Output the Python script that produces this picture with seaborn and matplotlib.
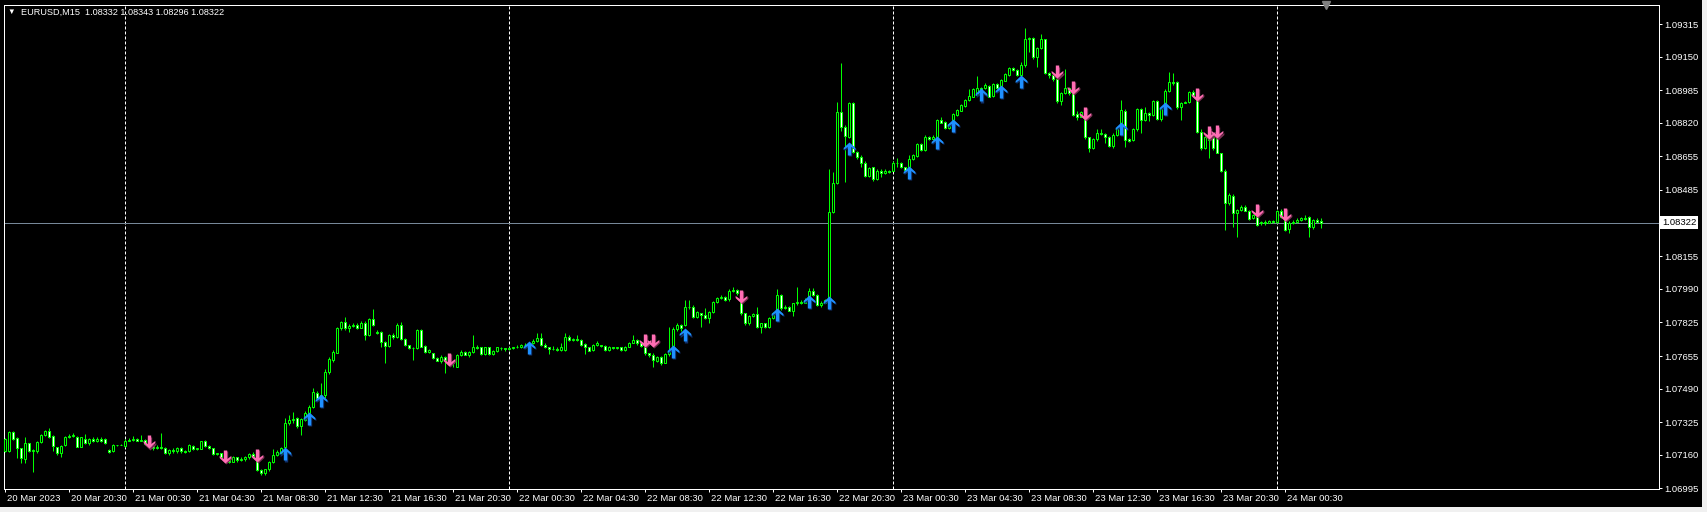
import numpy as np
import pandas as pd
import matplotlib
matplotlib.use("Agg")
import matplotlib.pyplot as plt
from matplotlib.path import Path
from matplotlib.markers import MarkerStyle
from matplotlib import transforms
from matplotlib.patches import Rectangle
import seaborn as sns

# ---------------- data (EURUSD M15, 20 Mar 2023 16:30 -> 24 Mar 2023 02:45) ----------------
opens = [
1.07182,1.07182,1.07277,1.07243,1.07193,1.07140,1.07218,1.07182,1.07180,1.07227,
1.07260,1.07278,1.07255,1.07198,1.07168,1.07210,1.07248,1.07255,1.07248,1.07202,
1.07242,1.07218,1.07238,1.07232,1.07240,1.07238,1.07185,1.07180,1.07208,1.07212,
1.07205,1.07232,1.07235,1.07240,1.07232,1.07235,1.07215,1.07205,1.07195,1.07198,
1.07193,1.07168,1.07185,1.07178,1.07193,1.07178,1.07180,1.07207,1.07190,1.07190,
1.07230,1.07205,1.07193,1.07167,1.07168,1.07152,1.07135,1.07127,1.07148,1.07135,
1.07140,1.07148,1.07165,1.07135,1.07085,1.07072,1.07088,1.07125,1.07160,1.07170,
1.07202,1.07318,1.07335,1.07343,1.07305,1.07335,1.07372,1.07402,1.07470,1.07455,
1.07460,1.07573,1.07635,1.07672,1.07793,1.07823,1.07793,1.07805,1.07810,1.07797,
1.07822,1.07760,1.07838,1.07777,1.07775,1.07723,1.07705,1.07760,1.07748,1.07810,
1.07740,1.07710,1.07695,1.07693,1.07785,1.07705,1.07677,1.07670,1.07643,1.07632,
1.07652,1.07635,1.07627,1.07602,1.07660,1.07677,1.07662,1.07677,1.07702,1.07698,
1.07665,1.07698,1.07663,1.07680,1.07695,1.07693,1.07688,1.07693,1.07700,1.07698,
1.07710,1.07710,1.07718,1.07732,1.07743,1.07710,1.07698,1.07690,1.07692,1.07685,
1.07685,1.07752,1.07735,1.07738,1.07735,1.07715,1.07698,1.07685,1.07710,1.07708,
1.07705,1.07685,1.07698,1.07693,1.07698,1.07685,1.07700,1.07722,1.07735,1.07718,
1.07702,1.07668,1.07660,1.07632,1.07648,1.07622,1.07663,1.07705,1.07788,1.07810,
1.07810,1.07902,1.07902,1.07852,1.07868,1.07860,1.07843,1.07877,1.07927,1.07943,
1.07952,1.07938,1.07982,1.07985,1.07968,1.07868,1.07818,1.07855,1.07865,1.07802,
1.07818,1.07802,1.07843,1.07868,1.07960,1.07893,1.07900,1.07882,1.07918,1.07927,
1.07922,1.07935,1.07982,1.07960,1.07910,1.07922,1.07910,1.08377,1.08522,1.08873,
1.08802,1.08752,1.08918,1.08677,1.08652,1.08622,1.08555,1.08598,1.08538,1.08582,
1.08572,1.08580,1.08582,1.08622,1.08622,1.08598,1.08602,1.08638,1.08655,1.08715,
1.08685,1.08752,1.08740,1.08752,1.08835,1.08827,1.08793,1.08835,1.08860,1.08882,
1.08907,1.08935,1.08952,1.08960,1.08993,1.08993,1.09005,1.08955,1.09013,1.09005,
1.09032,1.09060,1.09093,1.09085,1.09060,1.09110,1.09238,1.09243,1.09148,1.09193,
1.09238,1.09072,1.09060,1.09038,1.08932,1.08972,1.08993,1.08977,1.08865,1.08852,
1.08852,1.08748,1.08693,1.08738,1.08768,1.08765,1.08752,1.08705,1.08760,1.08810,
1.08882,1.08738,1.08735,1.08788,1.08888,1.08835,1.08868,1.08860,1.08930,1.08838,
1.08893,1.08982,1.09027,1.09027,1.08898,1.08922,1.08927,1.08977,1.08960,1.08777,
1.08693,1.08752,1.08752,1.08760,1.08668,1.08582,1.08418,1.08455,1.08368,1.08385,
1.08402,1.08382,1.08343,1.08352,1.08318,1.08327,1.08322,1.08330,1.08327,1.08380,
1.08335,1.08288,1.08318,1.08327,1.08335,1.08343,1.08348,1.08298,1.08335,1.08332]

highs = [
1.07243,1.07282,1.07282,1.07248,1.07195,1.07252,1.07222,1.07190,1.07232,1.07265,
1.07285,1.07293,1.07260,1.07200,1.07210,1.07255,1.07265,1.07268,1.07255,1.07252,
1.07265,1.07243,1.07248,1.07248,1.07248,1.07243,1.07190,1.07215,1.07210,1.07213,
1.07240,1.07245,1.07255,1.07245,1.07258,1.07240,1.07220,1.07210,1.07210,1.07268,
1.07200,1.07190,1.07193,1.07200,1.07200,1.07183,1.07213,1.07212,1.07197,1.07232,
1.07235,1.07210,1.07195,1.07172,1.07172,1.07160,1.07145,1.07157,1.07150,1.07148,
1.07155,1.07172,1.07175,1.07140,1.07088,1.07092,1.07130,1.07192,1.07185,1.07200,
1.07345,1.07360,1.07375,1.07350,1.07345,1.07380,1.07410,1.07497,1.07480,1.07518,
1.07590,1.07650,1.07685,1.07800,1.07830,1.07848,1.07815,1.07820,1.07820,1.07828,
1.07830,1.07845,1.07888,1.07785,1.07780,1.07728,1.07765,1.07770,1.07820,1.07825,
1.07745,1.07712,1.07700,1.07790,1.07790,1.07708,1.07690,1.07672,1.07648,1.07660,
1.07655,1.07640,1.07632,1.07665,1.07685,1.07682,1.07680,1.07758,1.07710,1.07702,
1.07702,1.07702,1.07685,1.07702,1.07700,1.07695,1.07698,1.07702,1.07708,1.07715,
1.07718,1.07725,1.07738,1.07768,1.07772,1.07718,1.07702,1.07705,1.07702,1.07720,
1.07772,1.07760,1.07745,1.07758,1.07740,1.07718,1.07702,1.07715,1.07730,1.07712,
1.07710,1.07705,1.07702,1.07702,1.07702,1.07705,1.07727,1.07758,1.07740,1.07725,
1.07705,1.07672,1.07668,1.07655,1.07655,1.07668,1.07802,1.07800,1.07822,1.07815,
1.07935,1.07935,1.07908,1.07882,1.07872,1.07893,1.07882,1.07932,1.07950,1.07960,
1.07955,1.07988,1.08002,1.07990,1.07970,1.07872,1.07860,1.07872,1.07898,1.07822,
1.07822,1.07848,1.07875,1.07988,1.07965,1.07908,1.07905,1.07922,1.08002,1.07935,
1.07945,1.07993,1.07993,1.07965,1.07930,1.07940,1.08588,1.08577,1.08927,1.09122,
1.08810,1.08925,1.08925,1.08682,1.08660,1.08630,1.08600,1.08602,1.08590,1.08588,
1.08588,1.08585,1.08628,1.08643,1.08627,1.08602,1.08660,1.08665,1.08720,1.08720,
1.08760,1.08755,1.08758,1.08840,1.08852,1.08830,1.08822,1.08870,1.08890,1.08915,
1.08940,1.08988,1.08993,1.09055,1.08998,1.09022,1.09010,1.09018,1.09018,1.09040,
1.09070,1.09098,1.09100,1.09090,1.09125,1.09293,1.09248,1.09248,1.09198,1.09265,
1.09242,1.09077,1.09065,1.09045,1.08977,1.09088,1.09000,1.08982,1.08880,1.08882,
1.08860,1.08752,1.08745,1.08790,1.08790,1.08770,1.08757,1.08770,1.08800,1.08935,
1.08888,1.08745,1.08795,1.08893,1.08893,1.08900,1.08875,1.08935,1.08935,1.08898,
1.08990,1.09077,1.09068,1.09030,1.08927,1.08932,1.08982,1.08985,1.08965,1.08790,
1.08760,1.08760,1.08760,1.08765,1.08672,1.08588,1.08470,1.08465,1.08390,1.08410,
1.08410,1.08385,1.08365,1.08358,1.08332,1.08335,1.08335,1.08335,1.08385,1.08388,
1.08340,1.08330,1.08335,1.08345,1.08352,1.08360,1.08355,1.08340,1.08345,1.08343]

lows = [
1.07177,1.07177,1.07235,1.07143,1.07122,1.07122,1.07177,1.07077,1.07172,1.07222,
1.07255,1.07245,1.07182,1.07160,1.07148,1.07205,1.07243,1.07248,1.07198,1.07198,
1.07215,1.07210,1.07227,1.07227,1.07227,1.07215,1.07170,1.07177,1.07205,1.07210,
1.07200,1.07230,1.07230,1.07228,1.07228,1.07210,1.07200,1.07185,1.07190,1.07190,
1.07165,1.07162,1.07172,1.07172,1.07172,1.07170,1.07177,1.07187,1.07185,1.07188,
1.07202,1.07188,1.07160,1.07160,1.07145,1.07125,1.07118,1.07125,1.07125,1.07128,
1.07132,1.07140,1.07148,1.07080,1.07058,1.07062,1.07082,1.07120,1.07155,1.07165,
1.07198,1.07310,1.07320,1.07295,1.07262,1.07330,1.07368,1.07395,1.07440,1.07440,
1.07445,1.07565,1.07625,1.07668,1.07785,1.07785,1.07775,1.07800,1.07790,1.07793,
1.07735,1.07755,1.07805,1.07765,1.07700,1.07618,1.07700,1.07740,1.07745,1.07733,
1.07705,1.07690,1.07635,1.07688,1.07700,1.07672,1.07672,1.07638,1.07628,1.07618,
1.07568,1.07615,1.07600,1.07600,1.07655,1.07658,1.07648,1.07672,1.07690,1.07660,
1.07660,1.07660,1.07658,1.07675,1.07685,1.07682,1.07685,1.07688,1.07695,1.07695,
1.07705,1.07705,1.07715,1.07727,1.07705,1.07693,1.07665,1.07685,1.07680,1.07680,
1.07682,1.07730,1.07730,1.07730,1.07705,1.07665,1.07678,1.07680,1.07705,1.07700,
1.07682,1.07680,1.07688,1.07690,1.07680,1.07678,1.07698,1.07718,1.07710,1.07700,
1.07660,1.07650,1.07602,1.07625,1.07610,1.07618,1.07655,1.07700,1.07780,1.07780,
1.07805,1.07890,1.07845,1.07845,1.07802,1.07838,1.07818,1.07870,1.07920,1.07938,
1.07930,1.07932,1.07975,1.07960,1.07860,1.07810,1.07812,1.07850,1.07795,1.07768,
1.07795,1.07795,1.07838,1.07860,1.07885,1.07888,1.07878,1.07855,1.07912,1.07915,
1.07918,1.07930,1.07955,1.07905,1.07900,1.07918,1.07905,1.08370,1.08515,1.08780,
1.08527,1.08745,1.08670,1.08640,1.08600,1.08550,1.08550,1.08530,1.08535,1.08552,
1.08565,1.08572,1.08578,1.08602,1.08593,1.08580,1.08595,1.08635,1.08650,1.08680,
1.08680,1.08735,1.08735,1.08748,1.08818,1.08790,1.08788,1.08830,1.08855,1.08878,
1.08902,1.08930,1.08948,1.08955,1.08975,1.08988,1.08948,1.08950,1.08988,1.09000,
1.09028,1.09055,1.09080,1.09055,1.09055,1.09100,1.09177,1.09140,1.09102,1.09188,
1.09065,1.09045,1.09030,1.08920,1.08910,1.08965,1.08960,1.08855,1.08835,1.08848,
1.08740,1.08675,1.08688,1.08730,1.08760,1.08720,1.08700,1.08695,1.08755,1.08805,
1.08700,1.08725,1.08730,1.08780,1.08770,1.08830,1.08830,1.08855,1.08833,1.08830,
1.08888,1.08977,1.09010,1.08890,1.08835,1.08918,1.08922,1.08955,1.08770,1.08685,
1.08688,1.08643,1.08685,1.08668,1.08575,1.08285,1.08410,1.08302,1.08248,1.08378,
1.08378,1.08335,1.08338,1.08305,1.08310,1.08312,1.08318,1.08320,1.08322,1.08345,
1.08280,1.08268,1.08315,1.08320,1.08330,1.08333,1.08250,1.08290,1.08320,1.08296]

closes = [
1.07238,1.07277,1.07238,1.07193,1.07143,1.07218,1.07182,1.07185,1.07227,1.07260,
1.07280,1.07250,1.07205,1.07168,1.07205,1.07248,1.07255,1.07260,1.07202,1.07248,
1.07218,1.07238,1.07232,1.07240,1.07232,1.07218,1.07175,1.07210,1.07208,1.07212,
1.07232,1.07235,1.07240,1.07232,1.07235,1.07215,1.07210,1.07195,1.07200,1.07197,
1.07168,1.07185,1.07178,1.07193,1.07178,1.07177,1.07210,1.07190,1.07193,1.07230,
1.07205,1.07193,1.07165,1.07168,1.07152,1.07135,1.07127,1.07150,1.07135,1.07140,
1.07150,1.07165,1.07155,1.07085,1.07072,1.07088,1.07127,1.07160,1.07177,1.07193,
1.07318,1.07335,1.07340,1.07305,1.07338,1.07372,1.07402,1.07473,1.07445,1.07460,
1.07573,1.07640,1.07677,1.07793,1.07823,1.07793,1.07805,1.07810,1.07797,1.07822,
1.07760,1.07838,1.07810,1.07772,1.07723,1.07705,1.07760,1.07748,1.07810,1.07738,
1.07710,1.07693,1.07693,1.07785,1.07702,1.07677,1.07685,1.07643,1.07632,1.07652,
1.07635,1.07627,1.07618,1.07660,1.07677,1.07662,1.07677,1.07702,1.07695,1.07665,
1.07698,1.07663,1.07680,1.07698,1.07693,1.07688,1.07693,1.07698,1.07702,1.07710,
1.07712,1.07718,1.07732,1.07743,1.07710,1.07698,1.07690,1.07692,1.07685,1.07702,
1.07752,1.07735,1.07738,1.07735,1.07710,1.07698,1.07682,1.07710,1.07718,1.07705,
1.07685,1.07698,1.07693,1.07698,1.07685,1.07702,1.07722,1.07735,1.07718,1.07705,
1.07668,1.07660,1.07635,1.07648,1.07622,1.07663,1.07677,1.07788,1.07810,1.07793,
1.07902,1.07898,1.07852,1.07877,1.07860,1.07843,1.07877,1.07927,1.07943,1.07952,
1.07935,1.07982,1.07985,1.07968,1.07868,1.07818,1.07855,1.07865,1.07802,1.07818,
1.07802,1.07843,1.07868,1.07960,1.07893,1.07902,1.07882,1.07918,1.07927,1.07922,
1.07935,1.07982,1.07960,1.07910,1.07922,1.07935,1.08377,1.08522,1.08873,1.08802,
1.08755,1.08918,1.08677,1.08652,1.08622,1.08555,1.08593,1.08538,1.08582,1.08572,
1.08582,1.08577,1.08622,1.08622,1.08598,1.08585,1.08638,1.08660,1.08715,1.08685,
1.08752,1.08738,1.08752,1.08835,1.08822,1.08793,1.08815,1.08865,1.08885,1.08910,
1.08935,1.08955,1.08988,1.08993,1.08982,1.09010,1.08952,1.09013,1.08993,1.09035,
1.09065,1.09093,1.09085,1.09060,1.09110,1.09238,1.09243,1.09148,1.09193,1.09238,
1.09072,1.09060,1.09038,1.08932,1.08972,1.08993,1.08970,1.08860,1.08852,1.08877,
1.08748,1.08693,1.08738,1.08768,1.08765,1.08752,1.08705,1.08760,1.08793,1.08885,
1.08735,1.08732,1.08788,1.08888,1.08835,1.08868,1.08860,1.08930,1.08838,1.08893,
1.08982,1.09027,1.09018,1.08898,1.08922,1.08927,1.08977,1.08960,1.08777,1.08693,
1.08752,1.08735,1.08693,1.08672,1.08582,1.08418,1.08460,1.08368,1.08385,1.08402,
1.08382,1.08340,1.08360,1.08310,1.08327,1.08318,1.08330,1.08327,1.08380,1.08352,
1.08285,1.08322,1.08327,1.08335,1.08343,1.08338,1.08298,1.08335,1.08327,1.08322]

# signal arrows (bar index, arrow tip price)
sell_idx = [36, 55, 63, 111, 160, 162, 184, 263, 267, 270, 298, 301, 303, 313, 320]
sell_tip = [1.07193, 1.07122, 1.07127, 1.07605, 1.07702, 1.07702, 1.07922, 1.09043,
            1.08965, 1.08835, 1.08932, 1.08738, 1.08743, 1.08352, 1.08332]
buy_idx = [70, 76, 79, 131, 167, 170, 193, 201, 206, 211, 226, 233, 237, 244, 249, 254, 279, 290]
buy_tip = [1.07198, 1.07377, 1.07465, 1.07730, 1.07710, 1.07793, 1.07897, 1.07960, 1.07957,
           1.08727, 1.08607, 1.08757, 1.08840, 1.08993, 1.09010, 1.09060, 1.08827, 1.08927]

day_sep_idx = [30, 126, 222, 318]
price_ticks = [1.09315, 1.09150, 1.08985, 1.08820, 1.08655, 1.08485, 1.08155,
               1.07990, 1.07825, 1.07655, 1.07490, 1.07325, 1.07160, 1.06995]
time_tick_idx = list(range(0, 321, 16))
time_tick_labels = ["20 Mar 2023", "20 Mar 20:30", "21 Mar 00:30", "21 Mar 04:30", "21 Mar 08:30",
                    "21 Mar 12:30", "21 Mar 16:30", "21 Mar 20:30", "22 Mar 00:30", "22 Mar 04:30",
                    "22 Mar 08:30", "22 Mar 12:30", "22 Mar 16:30", "22 Mar 20:30", "23 Mar 00:30",
                    "23 Mar 04:30", "23 Mar 08:30", "23 Mar 12:30", "23 Mar 16:30", "23 Mar 20:30",
                    "24 Mar 00:30"]
symbol = "EURUSD,M15"

# ---------------- style ----------------
sns.set_style("dark", {"axes.facecolor": "black", "figure.facecolor": "black",
                       "axes.edgecolor": "white", "xtick.color": "white", "ytick.color": "white",
                       "text.color": "white", "axes.grid": False})
plt.rcParams['font.family'] = ['Liberation Sans', 'DejaVu Sans']
plt.rcParams['xtick.bottom'] = True
plt.rcParams['ytick.right'] = True

LIME = "#00FF00"
PX = 0.72  # one pixel in points at dpi 100
W, H = 1707, 512
L, R, T, B = 4, 1659, 5, 489

df = pd.DataFrame({"open": opens, "high": highs, "low": lows, "close": closes})
df["i"] = np.arange(len(df))
df["bull"] = df["close"] >= df["open"]
df["bot"] = df[["open", "close"]].min(axis=1)
df["h"] = (df["close"] - df["open"]).abs().clip(lower=1e-7)

fig = plt.figure(figsize=(W / 100, H / 100), dpi=100, facecolor="black")
ax = fig.add_axes([L / W, 1 - B / H, (R - L) / W, (B - T) / H])
ax.set_facecolor("black")

# separators and current price line
for d in day_sep_idx:
    ax.axvline(d, color="white", lw=PX, ls=(0, (3, 2)), zorder=1)
ax.axhline(closes[-1], color="#778899", lw=PX, zorder=1)

# candles
ax.vlines(df["i"], df["low"], df["high"], color=LIME, lw=PX, zorder=2)
ax.bar(df["i"], df["h"], bottom=df["bot"], width=0.5,
       color=np.where(df["bull"], "black", "white"), edgecolor=LIME, linewidth=PX, zorder=3)

# arrow markers (tip at origin)
up_verts = [(0, 0), (0.45, -0.42), (0.45, -0.58), (0.13, -0.34), (0.13, -1.0),
            (-0.13, -1.0), (-0.13, -0.34), (-0.45, -0.58), (-0.45, -0.42), (0, 0)]
codes = [Path.MOVETO] + [Path.LINETO] * 8 + [Path.CLOSEPOLY]
up_marker = MarkerStyle(Path(up_verts, codes))
down_marker = MarkerStyle(Path([(x, -y) for x, y in up_verts], codes))
shadow = transforms.offset_copy(ax.transData, fig=fig, x=1.2, y=-1.2, units="dots")
S = 350
sns.scatterplot(x=buy_idx, y=buy_tip, marker=up_marker, s=S, color="#10306A", linewidth=0,
                ax=ax, transform=shadow, zorder=4)
sns.scatterplot(x=buy_idx, y=buy_tip, marker=up_marker, s=S, color="#1E90FF", linewidth=0,
                ax=ax, zorder=5)
sns.scatterplot(x=sell_idx, y=sell_tip, marker=down_marker, s=S, color="#7A2E52", linewidth=0,
                ax=ax, transform=shadow, zorder=4)
sns.scatterplot(x=sell_idx, y=sell_tip, marker=down_marker, s=S, color="#FF6EB4", linewidth=0,
                ax=ax, zorder=5)

# axes limits: 4 px per bar, 0.00005 per px
ax.set_xlim(-0.25, 413.5)
ax.set_ylim(1.06990, 1.09410)
ax.set_xlabel("")
ax.set_ylabel("")

for sp in ax.spines.values():
    sp.set_color("white")
    sp.set_linewidth(PX)

# y axis on right
ax.yaxis.tick_right()
ax.set_yticks(price_ticks)
ax.set_yticklabels([f"{v:.5f}" for v in price_ticks])
ax.tick_params(axis="y", which="both", direction="out", length=3 * PX, width=PX,
               color="white", labelcolor="white", labelsize=6.8, pad=2, left=False, right=True)

# x axis
ax.set_xticks(time_tick_idx)
ax.set_xticklabels(time_tick_labels, ha="left")
ax.tick_params(axis="x", which="both", direction="out", length=3 * PX, width=PX,
               color="white", labelcolor="white", labelsize=6.8, pad=1.5)
shift = transforms.ScaledTranslation(2 / 100, 0, fig.dpi_scale_trans)
for lab in ax.get_xticklabels():
    lab.set_transform(lab.get_transform() + shift)

# current price label
ax.text(1.0 + 3 / (R - L), closes[-1], f"{closes[-1]:.5f}",
        transform=transforms.blended_transform_factory(ax.transAxes, ax.transData),
        ha="left", va="center", color="black", fontsize=6.8,
        bbox=dict(boxstyle="square,pad=0.18", fc="white", ec="none"), clip_on=False, zorder=10)

# header text
hdr = f"{symbol}  {opens[-1]:.5f} {highs[-1]:.5f} {lows[-1]:.5f} {closes[-1]:.5f}"
fig.text(11 / W, 1 - 12.5 / H, "\u25BC", color="white", fontsize=5.5, ha="center", va="center")
fig.text(21 / W, 1 - 12.5 / H, hdr, color="white", fontsize=6.6, ha="left", va="center")

# chart shift marker at top
ax.plot([330.25], [1.0], marker="v", ms=6, color="#808080", mec="#808080",
        transform=transforms.blended_transform_factory(ax.transData, ax.transAxes),
        clip_on=False, zorder=10)

# light window border (right / bottom)
fig.patches.append(Rectangle((1702 / W, 0), 5 / W, 1, transform=fig.transFigure,
                             fc="#F0F0F0", ec="none", zorder=-1))
fig.patches.append(Rectangle((0, 0), 1, 5 / H, transform=fig.transFigure,
                             fc="#F0F0F0", ec="none", zorder=-1))

fig.savefig("out.png", dpi=100, facecolor="black")
